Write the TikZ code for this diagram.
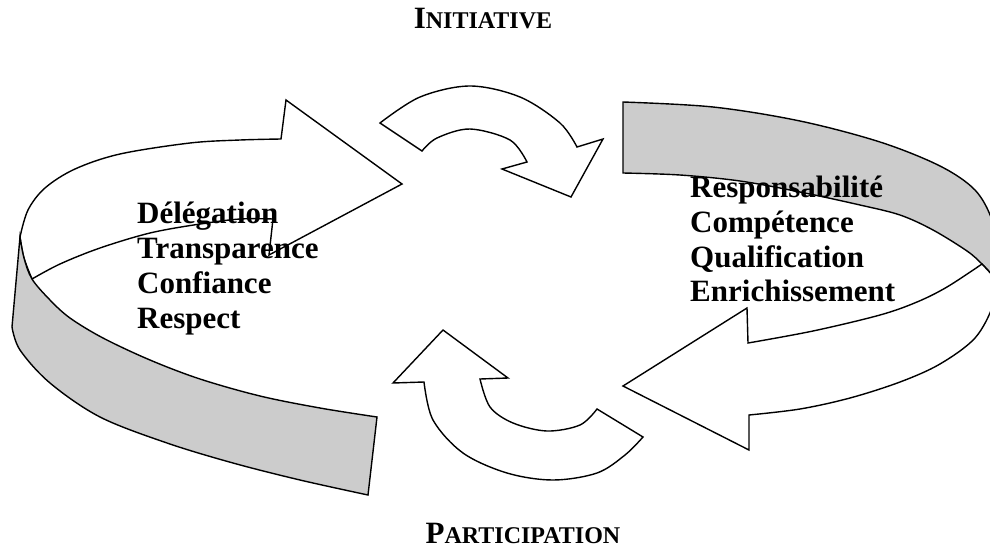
\documentclass[tikz,border=0pt]{standalone}
\usepackage{fontspec}
\setmainfont{Liberation Serif}
\newcommand{\petites}[1]{{\fontsize{24}{28}\selectfont #1}}

\begin{document}
\begin{tikzpicture}[x=1pt,y=-1pt,
		ruban/.style = {draw=black,line width=1.4pt,fill=black!20},
		fleche/.style = {draw=black,line width=1.4pt,fill=white},
		mot/.style = {anchor=base west,inner sep=0pt,
			font=\bfseries\fontsize{31}{35}\selectfont},
		titre/.style = {anchor=base,inner sep=0pt,
			font=\bfseries\fontsize{31}{36}\selectfont},
		smooth,tension=.55]
	\useasboundingbox (0,0) rectangle (990,549);

	% grande fleche de gauche : dessus blanc puis bande grise
	\draw[fleche] plot coordinates {(20,237) (28,210) (45,188) (75,169) (120,154) (190,143) (240,140) (281,139)}
		-- (286,100) -- (402,184) -- (269,255) -- (273,219)
		-- plot coordinates {(273,219) (240,219) (200,224) (150,233) (100,248) (60,264) (32,279)}
		-- plot coordinates {(32,279) (24,258) (20,237)} -- cycle;
	\draw[ruban] plot coordinates {(20,237) (24,258) (32,279) (50,300) (70,318) (103,338) (150,360) (200,379) (260,396) (320,408) (377,417)}
		-- (368,495)
		-- plot coordinates {(368,495) (300,480) (233,463) (167,443) (100,417) (50,383) (20,350) (12,327)}
		-- cycle;

	% grande fleche de droite
	\draw[ruban] plot coordinates {(623,102) (713,107) (800,121) (880,142) (940,166) (975,190) (992,220) (996,250) (995,278)}
		-- plot coordinates {(995,278) (982,264) (967,251) (933,230) (900,215) (860,205) (800,192) (740,181) (680,175) (623,173)}
		-- cycle;
	\draw[fleche] plot coordinates {(982,264) (947,287) (917,302) (880,315) (813,331) (748,343)}
		-- (747,308) -- (623,386) -- (749,450) -- (749,415)
		-- plot coordinates {(749,415) (800,409) (850,398) (900,382) (940,364) (975,338) (993,305) (995,278)}
		-- cycle;

	% petites fleches du centre
	\draw[fleche] plot coordinates {(380,123) (420,97) (470,86) (520,97) (560,123) (577,147)}
		-- (603,139) -- (571,197) -- (502,169) -- (527,162)
		-- plot coordinates {(527,162) (510,140) (470,129) (437,138) (422,151)}
		-- cycle;
	\draw[fleche] (443,330) -- (393,383) -- (424,382)
		-- plot coordinates {(424,382) (433,420) (463,453) (507,473) (553,480) (597,473) (625,455) (643,437)}
		-- (597,409)
		-- plot coordinates {(597,409) (580,425) (547,431) (513,423) (490,407) (480,379)}
		-- (508,378) -- cycle;

	% textes
	\node[titre] (initiative) at (483,28) {I\petites{NITIATIVE}};
	\node[titre] (participation) at (523,543) {P\petites{ARTICIPATION}};
	\foreach \mot [count=\i] in {Délégation,Transparence,Confiance,Respect}
		\node[mot] (gauche\i) at (137,188+35*\i) {\mot};
	\foreach \mot [count=\i] in {Responsabilité,Compétence,Qualification,Enrichissement}
		\node[mot] (droite\i) at (690,163+34.7*\i) {\mot};
\end{tikzpicture}
\end{document}
